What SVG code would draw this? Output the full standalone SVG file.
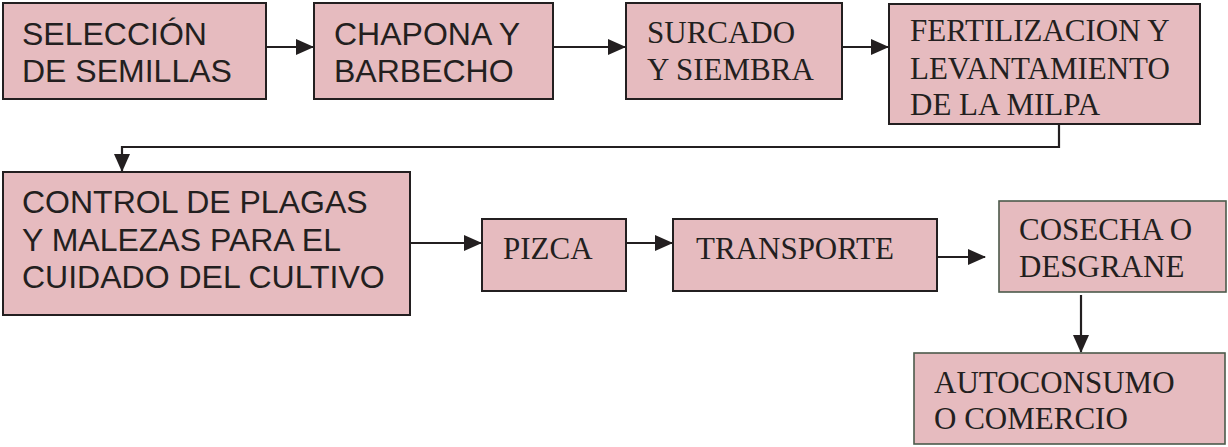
<svg xmlns="http://www.w3.org/2000/svg" width="1228" height="447" viewBox="0 0 1228 447">
<style>
.box{fill:#e6bbbf;stroke:#231f20;stroke-width:2}
.boxg{fill:#e6bbbf;stroke:#4d5a4b;stroke-width:1.6}
.sans{font-family:"Liberation Sans",Arial,sans-serif;font-size:32px;fill:#231f20}
.serif{font-family:"Liberation Serif","Times New Roman",serif;font-size:31px;fill:#231f20}
.conn{fill:none;stroke:#231f20;stroke-width:2.2;marker-end:url(#ah)}
</style>
<defs>
<marker id="ah" markerWidth="18" markerHeight="16" refX="17" refY="8" orient="auto" markerUnits="userSpaceOnUse">
<path d="M0,0 L18,8 L0,16 Z" fill="#231f20"/>
</marker>
</defs>
<g id="connectors">
<path class="conn" d="M266,47 H313"/>
<path class="conn" d="M553,47 H625"/>
<path class="conn" d="M842,47 H888"/>
<path class="conn" d="M1059,124 V147 H122 V171"/>
<path class="conn" d="M410,243 H481"/>
<path class="conn" d="M626,243 H672"/>
<path class="conn" d="M937,257 H985"/>
<path class="conn" d="M1081,295 V352"/>
</g>
<g id="n1"><rect class="box" x="3" y="3" width="263" height="96"/>
<text class="sans" x="22" y="45">SELECCIÓN</text><text class="sans" x="22" y="82">DE SEMILLAS</text></g>
<g id="n2"><rect class="box" x="314" y="3" width="239" height="96"/>
<text class="sans" x="334" y="45">CHAPONA Y</text><text class="sans" x="334" y="82">BARBECHO</text></g>
<g id="n3"><rect class="box" x="626" y="3" width="216" height="96"/>
<text class="serif" x="647" y="43">SURCADO</text><text class="serif" x="647" y="80">Y SIEMBRA</text></g>
<g id="n4"><rect class="box" x="889" y="4" width="311" height="120"/>
<text class="serif" x="910" y="41">FERTILIZACION Y</text><text class="serif" x="910" y="79">LEVANTAMIENTO</text><text class="serif" x="910" y="115">DE LA MILPA</text></g>
<g id="n5"><rect class="box" x="3" y="172" width="407" height="143"/>
<text class="sans" x="22" y="213">CONTROL DE PLAGAS</text><text class="sans" x="22" y="251">Y MALEZAS PARA EL</text><text class="sans" x="22" y="288">CUIDADO DEL CULTIVO</text></g>
<g id="n6"><rect class="box" x="482" y="219" width="144" height="72"/>
<text class="serif" x="503" y="259">PIZCA</text></g>
<g id="n7"><rect class="box" x="673" y="219" width="264" height="72"/>
<text class="serif" x="696" y="259">TRANSPORTE</text></g>
<g id="n8"><rect class="boxg" x="999" y="201" width="227" height="91"/>
<text class="serif" x="1019" y="240">COSECHA O</text><text class="serif" x="1019" y="277">DESGRANE</text></g>
<g id="n9"><rect class="boxg" x="914" y="353" width="311" height="91"/>
<text class="serif" x="934" y="393">AUTOCONSUMO</text><text class="serif" x="934" y="429">O COMERCIO</text></g>
</svg>
